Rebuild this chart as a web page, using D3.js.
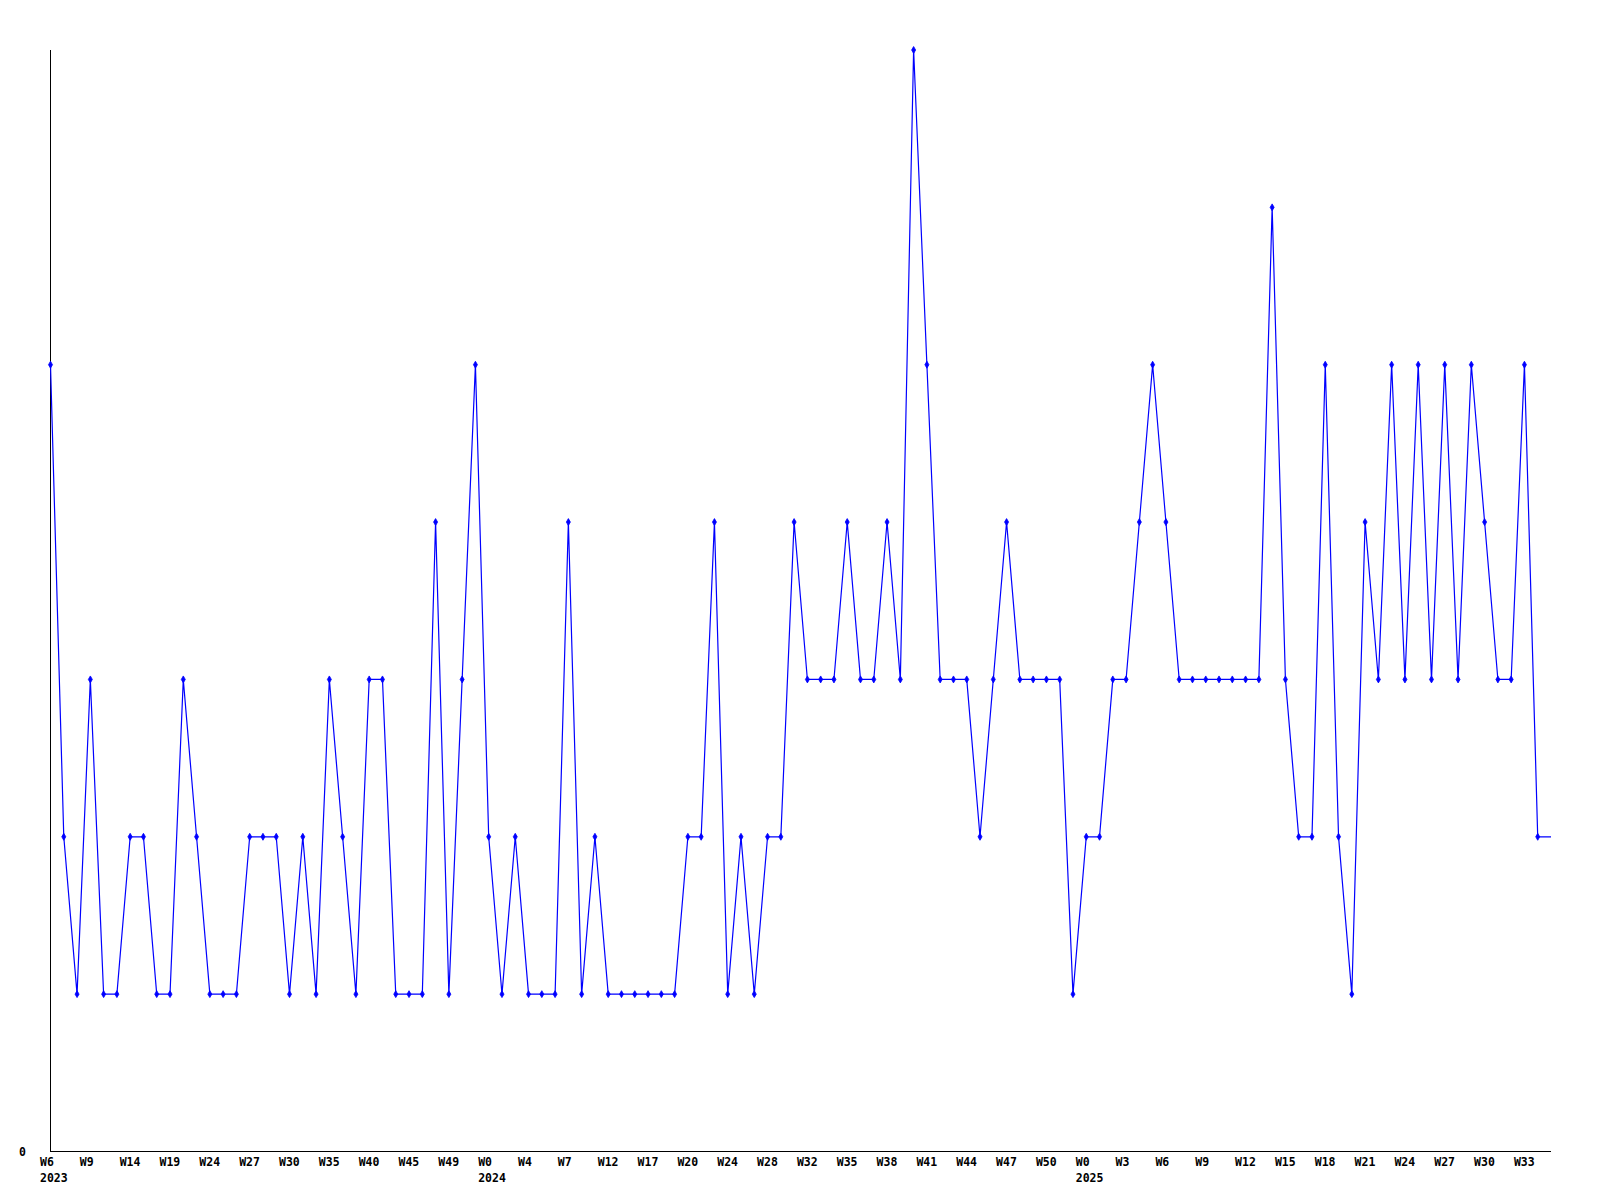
<!DOCTYPE html>
<html>
<head>
<meta charset="utf-8">
<script src="https://cdn.jsdelivr.net/npm/d3@7"></script>
<style>
  html, body { margin: 0; padding: 0; background: #fff; }
  svg { display: block; }
  .lbl { font-family: "DejaVu Sans Mono", "Liberation Mono", monospace; font-weight: bold; font-size: 11.5px; fill: #000; }
</style>
</head>
<body>
<svg id="chart" width="1600" height="1200"></svg>
<script>
// Weekly values (index-based x axis, one point per recorded week)
const values = [
  5, 2, 1, 3, 1, 1, 2, 2, 1, 1,
  3, 2, 1, 1, 1, 2, 2, 2, 1, 2,
  1, 3, 2, 1, 3, 3, 1, 1, 1, 4,
  1, 3, 5, 2, 1, 2, 1, 1, 1, 4,
  1, 2, 1, 1, 1, 1, 1, 1, 2, 2,
  4, 1, 2, 1, 2, 2, 4, 3, 3, 3,
  4, 3, 3, 4, 3, 7, 5, 3, 3, 3,
  2, 3, 4, 3, 3, 3, 3, 1, 2, 2,
  3, 3, 4, 5, 4, 3, 3, 3, 3, 3,
  3, 3, 6, 3, 2, 2, 5, 2, 1, 4,
  3, 5, 3, 5, 3, 5, 3, 5, 4, 3,
  3, 5, 2, 2
];
// Tick labels, one every third point
const weekLabels = [
  "W6", "W9", "W14", "W19", "W24", "W27", "W30", "W35", "W40", "W45", "W49",
  "W0", "W4", "W7", "W12", "W17", "W20", "W24", "W28", "W32", "W35", "W38", "W41", "W44", "W47", "W50",
  "W0", "W3", "W6", "W9", "W12", "W15", "W18", "W21", "W24", "W27", "W30", "W33"
];
const yearLabels = ["2023", "2024", "2025"];
const yearLabelTickIndex = [0, 11, 26];
const labelEvery = 3;
const yMax = 7;

(function () {
  const pLeft = 50.5, pRight = 1551, pTop = 50, pBottom = 1151.5;
  const svg = d3.select("#chart");

  const x = d3.scaleLinear().domain([0, values.length - 1]).range([pLeft, pRight]);
  const y = d3.scaleLinear().domain([0, yMax]).range([pBottom, pTop]);

  // axes lines
  svg.append("line").attr("x1", pLeft).attr("x2", pLeft).attr("y1", pTop).attr("y2", pBottom)
    .attr("stroke", "#000").attr("stroke-width", 1).attr("shape-rendering", "crispEdges");
  svg.append("line").attr("x1", pLeft).attr("x2", pRight).attr("y1", pBottom).attr("y2", pBottom)
    .attr("stroke", "#000").attr("stroke-width", 1).attr("shape-rendering", "crispEdges");

  // y label "0"
  svg.append("text").attr("class", "lbl").attr("x", 26).attr("y", y(0) + 4)
    .attr("text-anchor", "end").text(d3.format("d")(0));

  // x tick labels
  const tickIdx = weekLabels.map((_, k) => k * labelEvery);
  svg.append("g").selectAll("text").data(weekLabels).join("text")
    .attr("class", "lbl")
    .attr("x", (d, k) => x(tickIdx[k]) - 10.5)
    .attr("y", 1166)
    .text(d => d);
  svg.append("g").selectAll("text").data(yearLabels).join("text")
    .attr("class", "lbl")
    .attr("x", (d, k) => x(tickIdx[yearLabelTickIndex[k]]) - 10.5)
    .attr("y", 1182)
    .text(d => d);

  // line
  const line = d3.line().x((d, i) => x(i)).y(d => y(d));
  svg.append("path").datum(values)
    .attr("d", line)
    .attr("fill", "none")
    .attr("stroke", "#0000ff")
    .attr("stroke-width", 1.2);

  // markers (last value runs to the plot edge without a marker)
  const diamond = d3.symbol().type(d3.symbolDiamond).size(14);
  svg.append("g").selectAll("path").data(values.slice(0, values.length - 1)).join("path")
    .attr("d", diamond)
    .attr("transform", (d, i) => `translate(${x(i)},${y(d)})`)
    .attr("fill", "#0000ff")
    .attr("stroke", "#0000ff")
    .attr("stroke-width", 0.8);
})();
</script>
</body>
</html>
